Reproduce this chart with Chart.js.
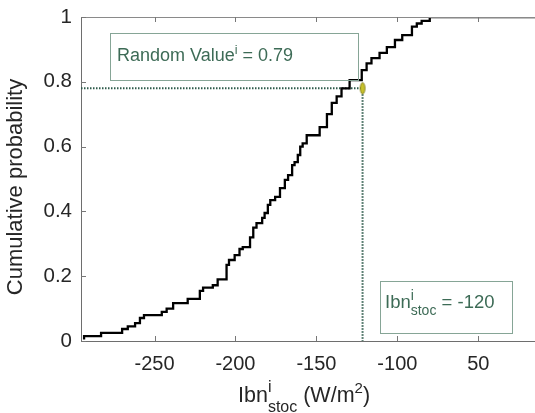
<!DOCTYPE html>
<html>
<head>
<meta charset="utf-8">
<script src="https://cdn.jsdelivr.net/npm/chart.js@4.4.0/dist/chart.umd.min.js"></script>
<style>
body{margin:0;background:#fff;}
</style>
</head>
<body>
<canvas id="cdfChart" width="535" height="413"></canvas>
<script>
const stepX = [-293.5,-283,-270,-266.5,-262,-259,-256.5,-245.5,-242.5,-238.5,
  -229.5,-222,-220,-214,-211,-205.5,-204,-200.5,-197.5,-195.5,
  -191,-189,-187,-183.5,-182,-180,-178.5,-175.5,-172.5,-169.5,
  -167.5,-165,-163.5,-161.5,-160,-158.5,-156,-148,-143.5,-140.5,
  -137.5,-134.5,-129.5,-122,-119,-116,-111,-106.5,-101.5,-97,
  -91,-88,-85,-80,-77,-15];
const stepY = [0.005,0.015,0.025,0.037,0.045,0.055,0.071,0.08,0.09,0.10,
  0.117,0.13,0.155,0.165,0.172,0.19,0.235,0.25,0.265,0.284,
  0.29,0.32,0.35,0.364,0.38,0.395,0.42,0.435,0.445,0.472,
  0.497,0.512,0.543,0.552,0.574,0.6,0.61,0.635,0.66,0.70,
  0.735,0.755,0.78,0.805,0.836,0.857,0.873,0.889,0.907,0.929,
  0.944,0.97,0.98,0.988,1.0,1.0];
const pickX = -121.5;
const pickY = 0.78;
const xMin = -295.4, xMax = -15;
const xTicks = [-250,-200,-150,-100,-50];
const xTickLabels = ['-250','-200','-150','-100','50'];
const yTicks = [0,0.2,0.4,0.6,0.8,1];
const yTickLabels = ['0','0.2','0.4','0.6','0.8','1'];

const FONT = "'Liberation Sans', Arial, Helvetica, sans-serif";
const txtGreen = '#3d6b56';
const boxGreen = '#86a596';
const dotGreen = '#2d5a4a';

// ellipse marker
const mk = document.createElement('canvas');
mk.width = 8; mk.height = 14;
(function(){
  const c = mk.getContext('2d');
  c.beginPath();
  c.ellipse(4, 7, 2.4, 5.6, 0, 0, Math.PI * 2);
  c.fillStyle = '#c8c22c';
  c.fill();
  c.lineWidth = 0.8;
  c.strokeStyle = '#7a7414';
  c.stroke();
})();

// draws text runs with sup/sub parts, returns width
function richText(ctx, x, y, items, doDraw) {
  let cx = x;
  items.forEach(function(it){
    ctx.font = it.size + 'px ' + FONT;
    if (it.t !== undefined) {
      if (doDraw) ctx.fillText(it.t, cx, y);
      cx += ctx.measureText(it.t).width;
    } else {
      let w = 0;
      if (it.sup) {
        if (doDraw) ctx.fillText(it.sup, cx, y - it.supUp);
        w = Math.max(w, ctx.measureText(it.sup).width);
      }
      if (it.sub) {
        if (doDraw) ctx.fillText(it.sub, cx, y + it.subDown);
        w = Math.max(w, ctx.measureText(it.sub).width);
      }
      cx += w;
    }
  });
  return cx - x;
}

const overlay = {
  id: 'overlay',
  afterDraw(chart) {
    const ctx = chart.ctx;
    const a = chart.chartArea;
    const xs = chart.scales.x, ys = chart.scales.y;
    ctx.save();
    // top box line
    ctx.strokeStyle = '#8a8a8a';
    ctx.lineWidth = 1;
    ctx.beginPath();
    ctx.moveTo(a.left, a.top + 0.5);
    ctx.lineTo(a.right, a.top + 0.5);
    ctx.stroke();
    // inward ticks
    ctx.strokeStyle = '#777';
    ctx.beginPath();
    xTicks.forEach(function(v){
      const px = Math.round(xs.getPixelForValue(v)) + 0.5;
      ctx.moveTo(px, a.bottom); ctx.lineTo(px, a.bottom - 5);
      ctx.moveTo(px, a.top); ctx.lineTo(px, a.top + 5);
    });
    yTicks.forEach(function(v){
      const py = Math.round(ys.getPixelForValue(v)) + 0.5;
      ctx.moveTo(a.left, py); ctx.lineTo(a.left + 5, py);
    });
    ctx.stroke();

    // annotation boxes
    ctx.strokeStyle = boxGreen;
    ctx.lineWidth = 1;
    ctx.strokeRect(110.5, 33.5, 248, 47);
    ctx.strokeRect(380.5, 281.5, 132, 52);
    ctx.fillStyle = txtGreen;
    ctx.textBaseline = 'alphabetic';
    ctx.textAlign = 'left';
    richText(ctx, 117, 61, [
      {t: 'Random Value', size: 18},
      {sup: 'i', supUp: 7, size: 12.5},
      {t: ' = 0.79', size: 18}
    ], true);
    richText(ctx, 385, 308, [
      {t: 'Ibn', size: 18.5},
      {sup: 'i', supUp: 8, sub: 'stoc', subDown: 7, size: 14},
      {t: ' = -120', size: 18.5}
    ], true);

    // x axis title
    ctx.fillStyle = '#262626';
    richText(ctx, 238, 402, [
      {t: 'Ibn', size: 21.5},
      {sup: 'i', supUp: 10, sub: 'stoc', subDown: 10, size: 16},
      {t: ' (W/m', size: 21.5},
      {sup: '2', supUp: 9, size: 15},
      {t: ')', size: 21.5}
    ], true);

    // y axis title
    ctx.translate(16, 187);
    ctx.rotate(-Math.PI / 2);
    ctx.font = '22px ' + FONT;
    ctx.textAlign = 'center';
    ctx.textBaseline = 'middle';
    ctx.fillText('Cumulative probability', 0, 0);
    ctx.restore();
  }
};

const ctx = document.getElementById('cdfChart').getContext('2d');
new Chart(ctx, {
  type: 'line',
  data: {
    datasets: [
      {
        label: 'pick',
        data: [{x: pickX, y: pickY}],
        showLine: false,
        pointStyle: mk,
        pointRadius: 5
      },
      {
        label: 'CDF',
        data: stepX.map(function(x, i){ return {x: x, y: stepY[i]}; }),
        stepped: 'after',
        borderColor: '#000',
        borderWidth: 2.3,
        pointRadius: 0,
        fill: false
      },
      {
        label: 'hline',
        data: [{x: xMin, y: pickY}, {x: pickX, y: pickY}],
        borderColor: dotGreen,
        borderWidth: 2,
        borderDash: [1.5, 1.5],
        pointRadius: 0
      },
      {
        label: 'vline',
        data: [{x: pickX, y: pickY}, {x: pickX, y: 0}],
        borderColor: dotGreen,
        borderWidth: 2,
        borderDash: [1.5, 1.5],
        pointRadius: 0
      }
    ]
  },
  options: {
    responsive: false,
    animation: false,
    devicePixelRatio: 1,
    layout: {autoPadding: false, padding: {top: 17, right: 0, left: 0, bottom: 0}},
    plugins: {
      legend: {display: false},
      tooltip: {enabled: false}
    },
    scales: {
      x: {
        type: 'linear',
        min: xMin,
        max: xMax,
        afterBuildTicks: function(s){ s.ticks = xTicks.map(function(v){ return {value: v}; }); },
        afterFit: function(s){ s.height = 72; s.paddingLeft = 0; s.paddingRight = 0; },
        grid: {display: false, drawTicks: false, tickLength: 0},
        border: {display: true, color: '#6e6e6e', width: 1},
        ticks: {
          color: '#262626',
          padding: 11,
          maxRotation: 0,
          font: {family: FONT, size: 20},
          callback: function(v, i){ return xTickLabels[i]; }
        }
      },
      y: {
        type: 'linear',
        min: 0,
        max: 1,
        afterBuildTicks: function(s){ s.ticks = yTicks.map(function(v){ return {value: v}; }); },
        afterFit: function(s){ s.width = 81; s.paddingTop = 0; s.paddingBottom = 0; },
        grid: {display: false, drawTicks: false, tickLength: 0},
        border: {display: true, color: '#6e6e6e', width: 1},
        ticks: {
          color: '#262626',
          padding: 9,
          font: {family: FONT, size: 20.5},
          callback: function(v, i){ return yTickLabels[i]; }
        }
      }
    }
  },
  plugins: [overlay]
});
</script>
</body>
</html>
